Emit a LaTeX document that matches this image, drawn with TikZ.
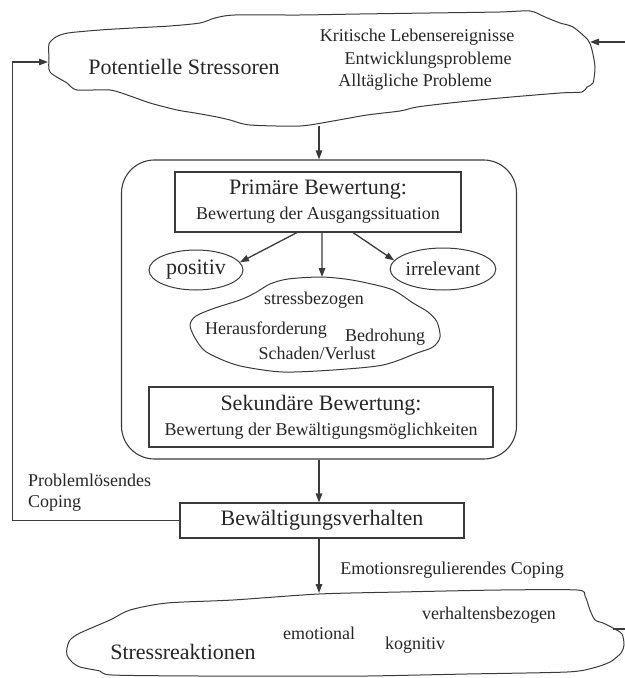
\documentclass[tikz,border=0pt]{standalone}
\usepackage{fontspec}
\setmainfont{Liberation Serif}
\usetikzlibrary{arrows.meta,shapes.geometric}
\definecolor{ink}{HTML}{262626}
\definecolor{linec}{HTML}{3A3A3A}
\newcommand\FBig{\fontsize{22bp}{25bp}\selectfont}
\newcommand\FMid{\fontsize{19.5bp}{22bp}\selectfont}
\newcommand\FSmall{\fontsize{18bp}{21bp}\selectfont}
\begin{document}
\begin{tikzpicture}[x=1bp,y=-1bp,
  every node/.style={text=ink, inner sep=0pt},
  box/.style={draw=linec, line width=1.1bp, rectangle, inner sep=0pt},
  oval/.style={draw=linec, line width=1bp, ellipse, inner sep=0pt},
  cloudline/.style={draw=linec, line width=1bp, line join=round},
  arr/.style={draw=linec, line width=1.3bp, -{Triangle[length=9bp,width=6.5bp]}},
  conn/.style={draw=linec, line width=1.3bp}]
\useasboundingbox (0,0) rectangle (625,678);

% ---------- top cloud ----------
\draw[cloudline] plot[smooth cycle, tension=0.45] coordinates {
 (49,44) (56,37) (68,33) (100,30) (133,28) (170,26) (200,23) (215,18) (235,15)
 (300,15) (360,14) (430,13) (500,12) (530,11) (545,17) (560,23) (573,27)
 (588,40) (592,50) (595,67) (593,83) (587,87) (582,92) (560,93) (500,98)
 (450,103) (417,107) (400,111) (367,115) (333,121) (300,126) (250,125)
 (230,120) (217,117) (195,113) (177,110) (150,103) (133,97) (110,90) (77,90)
 (67,83) (50,72) (49,58)};
\coordinate (topS) at (319,126);
\coordinate (topW) at (48,62);
\coordinate (topE) at (590,42);
\coordinate (rightTop) at (625,42);
\node[font=\FBig] (pot) at (184,67) {Potentielle Stressoren};
\node[font=\FSmall] (krit) at (417,37) {Kritische Lebensereignisse};
\node[font=\FSmall] (entw) at (428,60) {Entwicklungsprobleme};
\node[font=\FSmall] (allt) at (415,82) {Alltägliche Probleme};

% ---------- appraisal frame ----------
\node[box, rounded corners=33bp, minimum width=395bp, minimum height=299bp] (frame) at (319,309.5) {};
\node[box, minimum width=286bp, minimum height=60bp, align=center, font=\FBig] (prim) at (318,202)
  {Primäre Bewertung:\\{\FSmall Bewertung der Ausgangssituation}};
\node[oval, minimum width=94bp, minimum height=40bp, font=\FBig] (pos) at (196,270) {positiv};
\node[oval, minimum width=100bp, minimum height=42bp, font=\FMid] (irr) at (443,269) {irrelevant};

\draw[cloudline] plot[smooth cycle, tension=0.5] coordinates {
 (190,325) (196,316) (215,308) (240,300) (255,293) (270,284) (288,279) (320,277)
 (345,279) (367,283) (393,290) (413,303) (428,312) (437,322) (440,337) (433,347)
 (417,353) (383,365) (333,370) (283,372) (245,367) (225,361) (205,351) (195,338)};
\coordinate (stressN) at (322,277);
\node[font=\FSmall] (stress) at (314,300) {stressbezogen};
\node[font=\FSmall] (her) at (266,330) {Herausforderung};
\node[font=\FSmall] (bed) at (385,337) {Bedrohung};
\node[font=\FSmall] (scha) at (317,353) {Schaden/Verlust};

\node[box, minimum width=344bp, minimum height=60bp, align=center, font=\FBig] (sek) at (321,417)
  {Sekundäre Bewertung:\\{\FSmall Bewertung der Bewältigungsmöglichkeiten}};

\draw[arr] ([xshift=-21bp]prim.south) -- (pos.10);
\draw[arr] ([xshift=4bp]prim.south) -- (stressN);
\draw[arr] ([xshift=35bp]prim.south) -- (irr.170);

% ---------- coping ----------
\node[box, minimum width=284bp, minimum height=35bp, font=\FBig] (bew) at (322,520.5) {Bewältigungsverhalten};
\node[font=\FSmall, align=left, anchor=west] (prob) at (28,493) {Problemlösendes\\Coping};
\node[font=\FSmall] (emo) at (452,570) {Emotionsregulierendes Coping};

% ---------- bottom cloud ----------
\draw[cloudline] plot[smooth cycle, tension=0.45] coordinates {
 (67,648) (70,640) (80,633) (110,620) (130,610) (167,603) (233,600) (319,594)
 (400,592) (500,590) (577,590) (585,596) (590,610) (595,620) (603,623)
 (613,628) (622,634) (624,645) (621,653) (610,662) (593,668) (567,672)
 (467,674) (367,676) (300,676) (200,676) (112,675) (100,671) (80,667)
 (72,662) (67,655)};
\coordinate (botN) at (319,593);
\coordinate (botE) at (613,629);
\coordinate (rightBot) at (625,629);
\node[font=\FBig] (reak) at (183,652) {Stressreaktionen};
\node[font=\FSmall] (emot) at (319,633) {emotional};
\node[font=\FSmall] (verh) at (489,615) {verhaltensbezogen};
\node[font=\FSmall] (kog) at (415,645) {kognitiv};

% ---------- connectors ----------
\draw[arr] (topS) -- (topS |- frame.north);
\draw[arr] (frame.south) -- (frame.south |- bew.north);
\draw[arr] (frame.south |- bew.south) -- (botN);
\draw[arr] (bew.west) -- ++(-167,0) |- (topW);
\draw[arr] (rightTop) -- (topE);
\draw[conn] (botE) -- (rightBot);
\end{tikzpicture}
\end{document}
